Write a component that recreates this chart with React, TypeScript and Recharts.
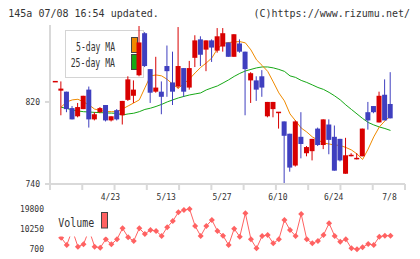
import React from 'react';
import { ComposedChart, Bar, Line, XAxis, YAxis } from 'recharts';

// ---- data ----
const opens = [840, 831, 830, 814, 806, 813, 832, 803, 810, 817, 802, 812, 807, 822, 826, 846, 887, 852, 830, 830, 855, 839, 835, 853, 834, 863, 881, 871, 880, 870, 874, 878, 864, 877, 869, 841, 841, 845, 806, 813, 810, 801, 789, 758, 786, 770, 772, 794, 778, 798, 786, 784, 750, 768, 765, 767, 810, 816, 800, 827, 818];
const highs = [840, 840, 830, 816, 819, 826, 835, 810, 815, 817, 806, 813, 821, 845, 841, 894, 888, 852, 864, 840, 875, 869, 893, 853, 860, 885, 884, 880, 881, 892, 892, 878, 886, 881, 869, 849, 845, 851, 820, 820, 810, 801, 789, 802, 810, 777, 784, 795, 803, 803, 797, 784, 785, 770, 770, 794, 820, 816, 830, 842, 849];
const lows = [840, 807, 810, 803, 805, 813, 795, 802, 809, 801, 801, 802, 798, 821, 819, 845, 854, 819, 829, 808, 825, 817, 833, 825, 832, 854, 855, 850, 859, 868, 869, 864, 864, 868, 807, 819, 821, 825, 805, 805, 794, 740, 752, 757, 765, 767, 763, 777, 774, 769, 753, 762, 750, 767, 764, 767, 793, 809, 800, 802, 804];
const closes = [840, 833, 813, 803, 815, 826, 803, 808, 814, 802, 806, 803, 821, 842, 832, 878, 855, 829, 834, 825, 850, 830, 855, 830, 853, 880, 866, 880, 873, 884, 887, 864, 886, 869, 852, 848, 832, 834, 820, 820, 810, 787, 756, 801, 779, 776, 784, 778, 803, 783, 753, 763, 768, 768, 765, 794, 802, 810, 826, 802, 804];
const ma5 = [null, 815, 820, 822, 822.6, 820, 817, 813, 811.7, 810.7, 810.5, 810.5, 813.2, 816.1, 819, 822, 833.7, 845.4, 846.3, 845.4, 842, 837.1, 833.4, 838, 842.4, 848.3, 853.7, 858, 862.9, 871.7, 877, 877.9, 878.5, 878.8, 877.6, 870.7, 861, 855.6, 849.8, 839.5, 828.8, 821, 808.3, 801.5, 794.6, 790.7, 785.9, 782.9, 780, 779, 778, 777.6, 775.6, 773.2, 769.3, 763.9, 774.1, 785.9, 795.6, 801.5, 806.3];
const ma25 = [null, 814.8, 813.7, 812.2, 811.2, 810.5, 810.2, 809.8, 809.6, 809.3, 809.1, 808.8, 807.3, 808.3, 809, 810.5, 812.7, 813.9, 815.6, 817.6, 820, 822, 823.9, 825.4, 826.8, 827.8, 828.8, 831.7, 833.7, 835.6, 838.5, 841.5, 844.9, 847.8, 850.2, 851.7, 853.2, 854.1, 854.1, 853.2, 851.7, 849.8, 845.4, 843.9, 841, 839, 836.6, 834.1, 832.2, 829.3, 825.9, 822, 817.1, 812.7, 808.3, 803.9, 800, 797.6, 795.6, 794.1, 792.2];
const volume = [null, 6100, 2610, 9770, 1800, 2940, 9770, 1800, 1320, 5330, 2940, 5330, 10580, 6290, 4520, 10580, 7860, 9770, 9300, 6910, 11060, 14070, 18220, 19320, 19800, 11680, 6910, 11680, 14550, 9300, 7050, 2610, 10350, 6570, 17750, 5330, 1030, 6910, 7390, 3420, 5330, 14550, 9770, 6910, 17410, 5330, 3420, 4520, 7390, 12970, 6910, 4190, 5330, 1030, 600, 1510, 3090, 2610, 6570, 7050, 7050];
const tickLabels = ['4/23', '5/13', '5/27', '6/10', '6/24', '7/8'];
const tickIndex = [10, 20, 30, 40, 50, 60];
const priceTicks = [740, 820];
const volumeTicks = [700, 10250, 19800];

// ---- styles ----
const FONT = '"DejaVu Sans Mono", monospace';
const RED = '#d80000';
const BLUE = '#3f3fbf';
const ORANGE = '#f08a00';
const GREEN = '#16a816';
const PINK = '#ff6262';
const AXIS = '#d9d9d9';
const TEXT = '#333333';

const xDomain: [number, number] = [-1, 62.6];
const markTicks = Array.from({ length: 12 }, (_, k) =>
  Math.min(xDomain[1], xDomain[0] + (k * (xDomain[1] - xDomain[0])) / 11)
);

const priceData = opens.map((o, i) => ({
  i,
  o,
  h: highs[i],
  l: lows[i],
  c: closes[i],
  ma5: ma5[i],
  ma25: ma25[i],
}));
const volData = volume.map((v, i) => ({ i, v }));

const Candle = (props: any) => {
  const { x, y, width, height, payload } = props;
  if (x == null || y == null || !payload) return null;
  const { o, h, l, c } = payload;
  const up = c >= o;
  const color = up ? RED : BLUE;
  const span = h - l;
  const k = span > 0 ? (height || 0) / span : 0;
  const top = y + (h - Math.max(o, c)) * k;
  const bot = y + (h - Math.min(o, c)) * k;
  const cx = x + width / 2;
  return (
    <g>
      {span > 0 && (
        <line x1={cx} x2={cx} y1={y} y2={y + height} stroke={color} strokeWidth={1} />
      )}
      {bot - top >= 1 ? (
        <rect x={x} y={top} width={width} height={bot - top} fill={color} />
      ) : (
        <rect x={x} y={top - 0.5} width={width} height={1.5} fill={color} />
      )}
    </g>
  );
};

const XTick = (props: any) => {
  const { x, y, payload } = props;
  const pos = tickIndex.indexOf(payload.value);
  if (pos >= 0) {
    return (
      <text x={x - 1} y={y + 16} textAnchor="middle" fontSize={8} fontFamily={FONT} fill={TEXT}>
        {tickLabels[pos]}
      </text>
    );
  }
  return <line x1={x} x2={x} y1={y} y2={y + 6} stroke={AXIS} strokeWidth={2} />;
};

const Diamond = (props: any) => {
  const { cx, cy, index } = props;
  if (cx == null || cy == null) return <g key={`d${index}`} />;
  const s = 3;
  return (
    <polygon
      key={`d${index}`}
      points={`${cx},${cy - s} ${cx + s},${cy} ${cx},${cy + s} ${cx - s},${cy}`}
      fill={PINK}
    />
  );
};

export default function App() {
  return (
    <div
      style={{
        position: 'absolute',
        left: 0,
        top: 0,
        width: 420,
        height: 259,
        background: '#fff',
        overflow: 'hidden',
      }}
    >
      {/* header */}
      <svg width={420} height={24} style={{ position: 'absolute', left: 0, top: 0 }}>
        <text x={8.3} y={16.5} fontSize={10} fontFamily={FONT} fill={TEXT}>
          145a 07/08 16:54 updated.
        </text>
        <text x={410} y={16.5} fontSize={10} fontFamily={FONT} fill={TEXT} textAnchor="end">
          (C)https://www.rizumu.net/
        </text>
      </svg>

      {/* price legend (drawn behind the candles) */}
      <svg width={420} height={90} style={{ position: 'absolute', left: 0, top: 0 }}>
        <rect x={65.5} y={30.5} width={78} height={47} fill="#fff" stroke="#d4d4d4" strokeWidth={1} />
        <text x={76} y={50.7} fontSize={12} fontFamily={FONT} fill={TEXT} textLength={39} lengthAdjust="spacingAndGlyphs">
          5-day MA
        </text>
        <text x={70.7} y={67.3} fontSize={12} fontFamily={FONT} fill={TEXT} textLength={44.3} lengthAdjust="spacingAndGlyphs">
          25-day MA
        </text>
        <rect x={131.5} y={37.5} width={6} height={15} fill={ORANGE} stroke="#444" strokeWidth={1} />
        <rect x={131.5} y={54.5} width={6} height={15} fill={GREEN} stroke="#444" strokeWidth={1} />
      </svg>

      {/* price chart */}
      <div style={{ position: 'absolute', left: 0, top: 0 }}>
        <ComposedChart width={420} height={210} data={priceData} margin={{ top: 25, right: 15, bottom: 0, left: 0 }}>
          <XAxis
            type="number"
            dataKey="i"
            domain={xDomain}
            allowDataOverflow
            ticks={[...markTicks, ...tickIndex]}
            interval={0}
            height={26}
            tickSize={0}
            tickMargin={0}
            tickLine={false}
            axisLine={{ stroke: AXIS, strokeWidth: 2 }}
            tick={<XTick />}
          />
          <YAxis
            domain={[740, 895]}
            allowDataOverflow
            ticks={priceTicks}
            width={50}
            tickSize={5}
            tickMargin={5}
            axisLine={{ stroke: AXIS, strokeWidth: 2 }}
            tickLine={{ stroke: AXIS, strokeWidth: 2 }}
            tick={{ fontSize: 8, fontFamily: FONT, fill: TEXT }}
          />
          <Line dataKey="ma25" stroke={GREEN} strokeWidth={1} dot={false} isAnimationActive={false} />
          <Line dataKey="ma5" stroke={ORANGE} strokeWidth={1} dot={false} isAnimationActive={false} />
          <Bar
            dataKey={(d: any) => [d.l, d.h]}
            barSize={5}
            shape={<Candle />}
            isAnimationActive={false}
            zIndex={450}
          />
        </ComposedChart>
      </div>

      {/* volume chart */}
      <div style={{ position: 'absolute', left: 0, top: 200 }}>
        <ComposedChart width={420} height={59} data={volData} margin={{ top: 5, right: 15, bottom: 6, left: 0 }}>
          <XAxis type="number" dataKey="i" domain={xDomain} allowDataOverflow hide />
          <YAxis
            domain={[-1210, 21710]}
            allowDataOverflow
            ticks={volumeTicks}
            width={50}
            axisLine={false}
            tickLine={false}
            tickSize={0}
            tickMargin={6}
            tick={{ fontSize: 8, fontFamily: FONT, fill: TEXT }}
          />
          <Line dataKey="v" stroke={PINK} strokeWidth={1} dot={<Diamond />} isAnimationActive={false} />
        </ComposedChart>
      </div>

      {/* volume legend (drawn over the line) */}
      <svg width={420} height={259} style={{ position: 'absolute', left: 0, top: 0, pointerEvents: 'none' }}>
        <rect x={55} y={206} width={57} height={30.5} fill="#fff" />
        <text x={58.3} y={226.7} fontSize={12} fontFamily={FONT} fill={TEXT} textLength={36} lengthAdjust="spacingAndGlyphs">
          Volume
        </text>
        <rect x={101.5} y={212.5} width={6} height={15.5} fill={PINK} stroke="#444" strokeWidth={1} />
      </svg>
    </div>
  );
}
